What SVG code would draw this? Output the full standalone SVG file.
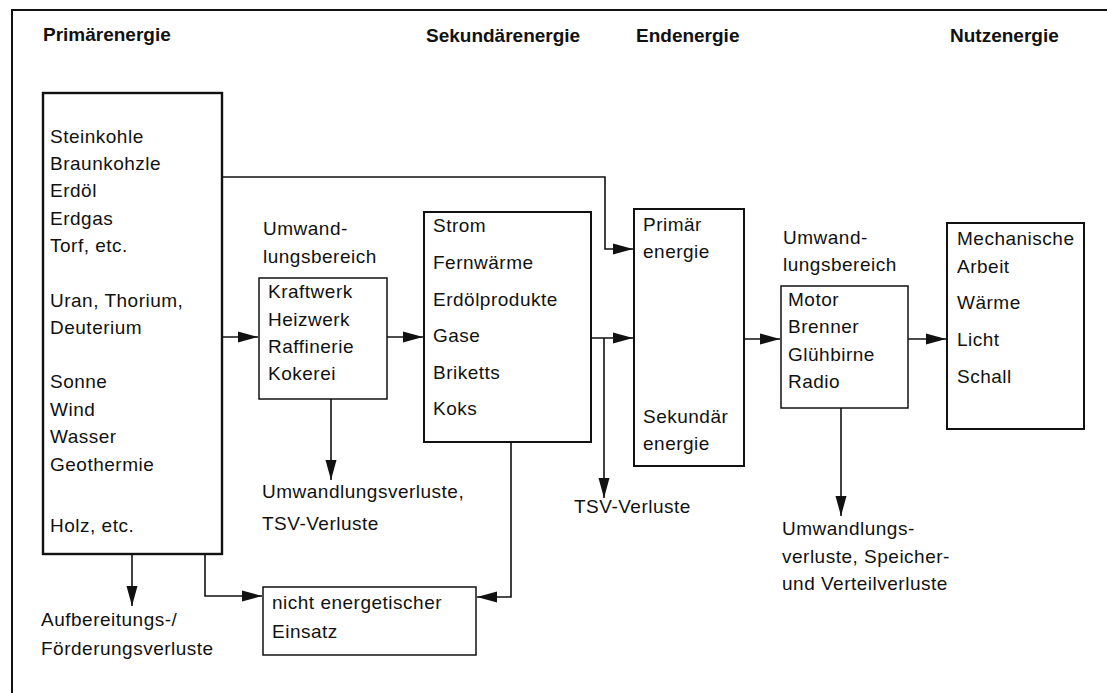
<svg xmlns="http://www.w3.org/2000/svg" width="1107" height="693" viewBox="0 0 1107 693">
<defs>
<style>
text{font-family:"Liberation Sans",Arial,sans-serif;font-size:19px;fill:#111;letter-spacing:0.5px}
.h{font-weight:bold;letter-spacing:0}
.box{fill:#fff;stroke:#111;stroke-width:2}
.thin{stroke-width:1.5}
.c{fill:none;stroke:#111;stroke-width:1.6}
</style>
<marker id="a" markerUnits="userSpaceOnUse" markerWidth="22" markerHeight="12" refX="20" refY="6" orient="auto">
<path d="M0,0.5 L20,6 L0,11.5 Z" fill="#111"/>
</marker>
</defs>
<rect width="1107" height="693" fill="#fff"/>
<g id="frame"><path d="M12,693 V10 H1107" fill="none" stroke="#111" stroke-width="2"/></g>
<g id="headings">
<text class="h" x="43" y="41">Primärenergie</text>
<text class="h" x="426" y="42">Sekundärenergie</text>
<text class="h" x="636" y="42">Endenergie</text>
<text class="h" x="950" y="42">Nutzenergie</text>
</g>
<g id="connectors">
<path class="c" d="M222,177 H605 V249 H633" marker-end="url(#a)"/>
<path class="c" d="M222,337 H258" marker-end="url(#a)"/>
<path class="c" d="M387,337 H423" marker-end="url(#a)"/>
<path class="c" d="M331,399 V480" marker-end="url(#a)"/>
<path class="c" d="M591,338 H633" marker-end="url(#a)"/>
<path class="c" d="M604,338 V498" marker-end="url(#a)"/>
<path class="c" d="M744,339 H780" marker-end="url(#a)"/>
<path class="c" d="M908,339 H946" marker-end="url(#a)"/>
<path class="c" d="M841,408 V516" marker-end="url(#a)"/>
<path class="c" d="M132,554 V606" marker-end="url(#a)"/>
<path class="c" d="M205,554 V596 H262" marker-end="url(#a)"/>
<path class="c" d="M511,442 V597 H477" marker-end="url(#a)"/>
</g>
<g id="primaer">
<rect class="box" x="43" y="93" width="179" height="461" style="stroke-width:2.4"/>
<text x="50" y="143">Steinkohle</text>
<text x="50" y="170">Braunkohzle</text>
<text x="50" y="197">Erdöl</text>
<text x="50" y="225">Erdgas</text>
<text x="50" y="252">Torf, etc.</text>
<text x="50" y="307">Uran, Thorium,</text>
<text x="50" y="334">Deuterium</text>
<text x="50" y="388">Sonne</text>
<text x="50" y="416">Wind</text>
<text x="50" y="443">Wasser</text>
<text x="50" y="471">Geothermie</text>
<text x="50" y="532">Holz, etc.</text>
</g>
<g id="umwandlung1">
<text x="263" y="235">Umwand-</text>
<text x="263" y="263">lungsbereich</text>
<rect class="box thin" x="259" y="278" width="128" height="121"/>
<text x="268" y="298">Kraftwerk</text>
<text x="268" y="326">Heizwerk</text>
<text x="268" y="353">Raffinerie</text>
<text x="268" y="380">Kokerei</text>
</g>
<g id="verluste1">
<text x="262" y="498">Umwandlungsverluste,</text>
<text x="262" y="530">TSV-Verluste</text>
</g>
<g id="sekundaer">
<rect class="box" x="424" y="212" width="167" height="230"/>
<text x="433" y="232">Strom</text>
<text x="433" y="269">Fernwärme</text>
<text x="433" y="306">Erdölprodukte</text>
<text x="433" y="342">Gase</text>
<text x="433" y="379">Briketts</text>
<text x="433" y="415">Koks</text>
</g>
<g id="tsv">
<text x="574" y="513">TSV-Verluste</text>
</g>
<g id="endenergie">
<rect class="box" x="634" y="209" width="110" height="257"/>
<text x="643" y="231">Primär</text>
<text x="643" y="258">energie</text>
<text x="643" y="423">Sekundär</text>
<text x="643" y="450">energie</text>
</g>
<g id="umwandlung2">
<text x="783" y="244">Umwand-</text>
<text x="783" y="271">lungsbereich</text>
<rect class="box thin" x="781" y="286" width="127" height="122"/>
<text x="788" y="306">Motor</text>
<text x="788" y="333">Brenner</text>
<text x="788" y="361">Glühbirne</text>
<text x="788" y="388">Radio</text>
</g>
<g id="nutzenergie">
<rect class="box" x="947" y="223" width="137" height="206"/>
<text x="957" y="245">Mechanische</text>
<text x="957" y="273">Arbeit</text>
<text x="957" y="309">Wärme</text>
<text x="957" y="346">Licht</text>
<text x="957" y="383">Schall</text>
</g>
<g id="verluste2">
<text x="782" y="535">Umwandlungs-</text>
<text x="782" y="563">verluste, Speicher-</text>
<text x="782" y="590">und Verteilverluste</text>
</g>
<g id="nichtenergetisch">
<rect class="box thin" x="263" y="587" width="213" height="68"/>
<text x="272" y="609">nicht energetischer</text>
<text x="272" y="638">Einsatz</text>
</g>
<g id="verluste0">
<text x="41" y="626">Aufbereitungs-/</text>
<text x="41" y="655">Förderungsverluste</text>
</g>
</svg>
